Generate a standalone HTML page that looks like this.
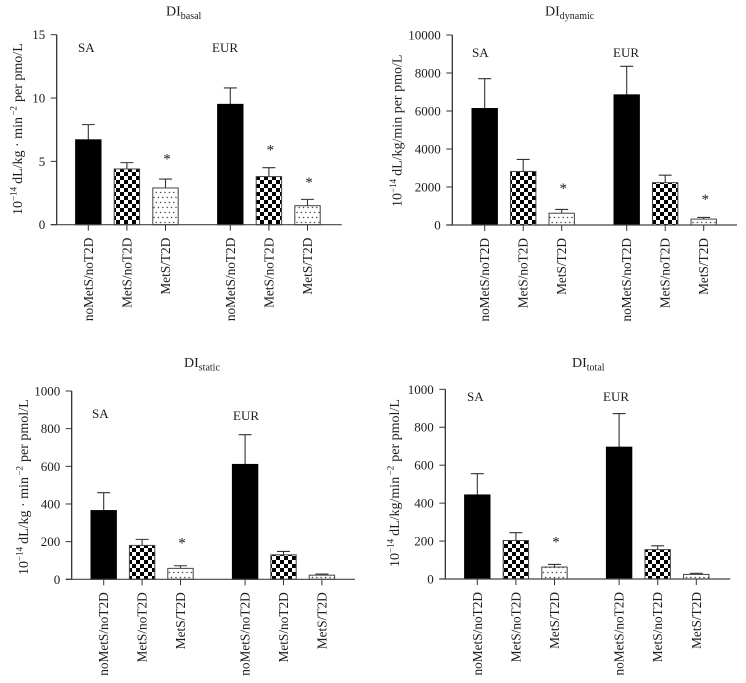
<!DOCTYPE html>
<html lang="en">
<head>
<meta charset="utf-8">
<title>Disposition indices by group</title>
<style>
html,body{margin:0;padding:0;background:#fff;}
#figure{display:block;width:746px;height:683px;font-family:"Liberation Serif",serif;fill:#1c1c1c;filter:blur(0.3px);}
</style>
</head>
<body>
<svg id="figure" xmlns="http://www.w3.org/2000/svg" width="746" height="683" viewBox="0 0 746 683">
  <defs>
    <pattern id="checker" patternUnits="userSpaceOnUse" width="8" height="8">
      <rect width="8" height="8" fill="#fff"/>
      <rect width="4" height="4" fill="#000"/>
      <rect x="4" y="4" width="4" height="4" fill="#000"/>
    </pattern>
    <pattern id="dots" patternUnits="userSpaceOnUse" width="8.8" height="10">
      <rect width="8.8" height="10" fill="#fff"/>
      <circle cx="2.2" cy="2.5" r="0.7" fill="#333"/>
      <circle cx="6.6" cy="2.5" r="0.7" fill="#333"/>
      <circle cx="0" cy="7.5" r="0.7" fill="#333"/>
      <circle cx="4.4" cy="7.5" r="0.7" fill="#333"/>
      <circle cx="8.8" cy="7.5" r="0.7" fill="#333"/>
    </pattern>
  </defs>
</svg>
<script>
// Shared categories
const categories = ["noMetS/noT2D", "MetS/noT2D", "MetS/T2D", "noMetS/noT2D", "MetS/noT2D", "MetS/T2D"];

// DI basal
const basalValues = [6.7, 4.4, 2.9, 9.5, 3.8, 1.5];
const basalErrorTops = [7.9, 4.9, 3.6, 10.8, 4.5, 2.0];
const basalStars = [null, null, 5.3, null, 6.0, 3.45];
const basalTicks = [0, 5, 10, 15];

// DI dynamic
const dynamicValues = [6130, 2820, 620, 6850, 2230, 310];
const dynamicErrorTops = [7700, 3450, 820, 8350, 2620, 400];
const dynamicStars = [null, null, 2000, null, null, 1420];
const dynamicTicks = [0, 2000, 4000, 6000, 8000, 10000];

// DI static
const staticValues = [365, 180, 58, 610, 130, 22];
const staticErrorTops = [460, 212, 72, 768, 148, 28];
const staticStars = [null, null, 200, null, null, null];
const staticTicks = [0, 200, 400, 600, 800, 1000];

// DI total
const totalValues = [443, 203, 63, 695, 155, 24];
const totalErrorTops = [555, 244, 77, 872, 175, 30];
const totalStars = [null, null, 202, null, null, null];
const totalTicks = [0, 200, 400, 600, 800, 1000];

const SVGNS = "http://www.w3.org/2000/svg";
const root = document.getElementById("figure");
const fills = ["#000", "url(#checker)", "url(#dots)"];

function make(parent, tag, props, text) {
  const el = document.createElementNS(SVGNS, tag);
  for (const k in props) el.setAttribute(k, props[k]);
  if (text !== undefined) el.textContent = text;
  parent.appendChild(el);
  return el;
}

function drawPanel(p) {
  const g = make(root, "g", {});
  
  

  const maxTick = p.ticks[p.ticks.length - 1];
  const yScale = v => p.y0 - (v / maxTick) * (p.y0 - p.yTop);
  const xScale = i => p.x0 + p.firstBar + i * p.barStep + (i > 2 ? p.groupGap : 0);

  // title
  const title = make(g, "text", {x: p.titleX, y: p.titleY, "font-size": 14});
  
  
  make(title, "tspan", {}, "DI");
  make(title, "tspan", {dy: 3.5, "font-size": 10}, p.titleSub);

  // y-axis title
  const yt = make(g, "text", {
    transform: "translate(" + p.ytX + "," + p.ytY + ") rotate(-90)",
    "font-size": 14
  });
  
  
  make(yt, "tspan", {}, "10");
  make(yt, "tspan", {dy: -5.5, "font-size": 9}, "\u221214");
  make(yt, "tspan", {dy: 5.5, dx: 3}, p.ytMain);
  if (p.ytSup) {
    make(yt, "tspan", {dy: -5.5, "font-size": 9, dx: 1.5}, "\u22122");
    make(yt, "tspan", {dy: 5.5, dx: 4}, p.ytTail);
  }

  // group labels
  const sa = make(g, "text", {x: p.saX, y: p.saY, "font-size": 13}, "SA");
  
  
  const eur = make(g, "text", {x: p.eurX, y: p.eurY, "font-size": 13}, "EUR");
  
  

  // bars, error bars, stars, category labels
  p.values.forEach((v, i) => {
    const cx = xScale(i);
    const top = yScale(v);
    const errTop = yScale(p.errs[i]);

    const err = make(g, "path", {
      d: "M" + cx + " " + top + "V" + errTop + "M" + (cx - 6.5) + " " + errTop + "H" + (cx + 6.5),
      stroke: "#333", "stroke-width": 1.1, fill: "none"
    });
    
    

    const bar = make(g, "rect", {
      x: cx - 12.7, y: top, width: 25.4, height: p.y0 - top,
      fill: fills[i % 3], stroke: i % 3 === 0 ? "#000" : "#444", "stroke-width": 1
    });
    
    

    const tick = make(g, "line", {x1: cx, x2: cx, y1: p.y0, y2: p.y0 + 6, stroke: "#333", "stroke-width": 1});
    
    

    const lx = cx + 4.5;
    const ly = p.y0 + 13;
    const lab = make(g, "text", {
      transform: "translate(" + lx + "," + ly + ") rotate(-90)",
      "text-anchor": "end", "font-size": 13.3
    }, categories[i]);
    
    

    if (p.stars[i] !== null) {
      const star = make(g, "text", {
        x: cx + 1.5, y: yScale(p.stars[i]) + 6, "text-anchor": "middle", "font-size": 15
      }, "*");
      
      
    }
  });

  // axes
  const yAxis = make(g, "line", {x1: p.x0, x2: p.x0, y1: p.yTop, y2: p.y0, stroke: "#222", "stroke-width": 1.2});
  
  
  const xAxis = make(g, "line", {x1: p.x0 - 6, x2: p.xEnd, y1: p.y0, y2: p.y0, stroke: "#444", "stroke-width": 1.2});
  
  

  p.ticks.forEach(t => {
    const y = yScale(t);
    const tk = make(g, "line", {x1: p.x0 - 6, x2: p.x0, y1: y, y2: y, stroke: "#333", "stroke-width": 1});
    
    
    const lb = make(g, "text", {x: p.x0 - 11.5, y: y + 4.5, "text-anchor": "end", "font-size": 13}, String(t));
    
    
  });
}

drawPanel({
  key: "di-basal", values: basalValues, errs: basalErrorTops, stars: basalStars, ticks: basalTicks,
  x0: 56.7, xEnd: 341.7, yTop: 34.7, y0: 224.7, firstBar: 31.6, barStep: 38.6, groupGap: 26.2,
  titleX: 166, titleY: 15.5, titleSub: "basal",
  ytX: 22, ytY: 215, ytMain: "dL/kg \u00b7 min", ytSup: true, ytTail: "per pmo/L",
  saX: 78, saY: 52, eurX: 212, eurY: 52
});
drawPanel({
  key: "di-dynamic", values: dynamicValues, errs: dynamicErrorTops, stars: dynamicStars, ticks: dynamicTicks,
  x0: 452.3, xEnd: 737, yTop: 35, y0: 225, firstBar: 32.4, barStep: 38.5, groupGap: 26.5,
  titleX: 545, titleY: 15.5, titleSub: "dynamic",
  ytX: 401.5, ytY: 207, ytMain: "dL/kg/min per pmo/L", ytSup: false, ytTail: "",
  saX: 472, saY: 57, eurX: 613, eurY: 57
});
drawPanel({
  key: "di-static", values: staticValues, errs: staticErrorTops, stars: staticStars, ticks: staticTicks,
  x0: 71.7, xEnd: 355, yTop: 391, y0: 579.3, firstBar: 32, barStep: 38.4, groupGap: 26.2,
  titleX: 184, titleY: 367, titleSub: "static",
  ytX: 28, ytY: 575, ytMain: "dL/kg \u00b7 min", ytSup: true, ytTail: "per pmol/L",
  saX: 92, saY: 418, eurX: 233, eurY: 420
});
drawPanel({
  key: "di-total", values: totalValues, errs: totalErrorTops, stars: totalStars, ticks: totalTicks,
  x0: 445.3, xEnd: 730.3, yTop: 389.3, y0: 579, firstBar: 32, barStep: 38.6, groupGap: 26,
  titleX: 572, titleY: 367, titleSub: "total",
  ytX: 399, ytY: 567, ytMain: "dL/kg/min", ytSup: true, ytTail: "per pmol/L",
  saX: 467, saY: 401, eurX: 603, eurY: 401
});
</script>
</body>
</html>
